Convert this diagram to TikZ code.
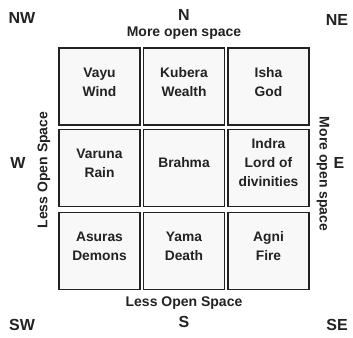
\documentclass[tikz,border=0pt]{standalone}
\usepackage{fontspec}
\setmainfont{Liberation Sans}
\definecolor{ink}{HTML}{222222}
\definecolor{paper}{HTML}{F8F8F8}
\begin{document}
\begin{tikzpicture}[x=1pt,y=-1pt,
  cell/.style={draw=ink, line width=1.8pt, fill=paper, minimum width=81pt, minimum height=77pt, inner sep=0pt},
  celltext/.style={text=ink, align=center, font=\fontsize{13.8}{19}\selectfont\bfseries, inner sep=0pt},
  side/.style={text=ink, font=\fontsize{14}{16}\selectfont\bfseries, inner sep=0pt},
  compass/.style={text=ink, font=\fontsize{16}{18}\selectfont\bfseries, inner sep=0pt}]
\useasboundingbox (0,0) rectangle (353,337);

% the nine zones
\node[cell] (vayu)   at (99.5,86.5) {};
\node[cell] (kubera) at (184,86.5) {};
\node[cell] (isha)   at (268.5,86.5) {};
\node[cell] (varuna) at (99.5,168) {};
\node[cell] (brahma) at (184,168) {};
\node[cell] (indra)  at (268.5,168) {};
\node[cell] (asuras) at (99.5,251) {};
\node[cell] (yama)   at (184,251) {};
\node[cell] (agni)   at (268.5,251) {};

\node[celltext] (tvayu)   at ([yshift=4pt]vayu.center)   {Vayu\\Wind};
\node[celltext] (tkubera) at ([yshift=4pt]kubera.center) {Kubera\\Wealth};
\node[celltext] (tisha)   at ([yshift=4pt]isha.center)   {Isha\\God};
\node[celltext] (tvaruna) at ([yshift=5pt]varuna.center) {Varuna\\Rain};
\node[celltext] (tbrahma) at ([yshift=5pt]brahma.center) {Brahma};
\node[celltext] (tindra)  at ([yshift=5pt]indra.center)  {Indra\\Lord of\\divinities};
\node[celltext] (tasuras) at ([yshift=5pt]asuras.center) {Asuras\\Demons};
\node[celltext] (tyama)   at ([yshift=5pt]yama.center)   {Yama\\Death};
\node[celltext] (tagni)   at ([yshift=5pt]agni.center)   {Agni\\Fire};

% open-space notes on each side
\node[side] (top)    at (184,33)  {More open space};
\node[side] (bottom) at (184,303) {Less Open Space};
\node[side, rotate=90]  (left)  at (44,170)  {Less Open Space};
\node[side, rotate=-90] (right) at (323,174) {More open space};

% compass points
\node[compass] (nw) at (22,18)  {NW};
\node[compass] (n)  at (184,15) {N};
\node[compass] (ne) at (337,20) {NE};
\node[compass] (w)  at (18,163) {W};
\node[compass] (e)  at (339,163) {E};
\node[compass] (sw) at (22,325) {SW};
\node[compass] (s)  at (184,322) {S};
\node[compass] (se) at (337,325) {SE};
\end{tikzpicture}
\end{document}
